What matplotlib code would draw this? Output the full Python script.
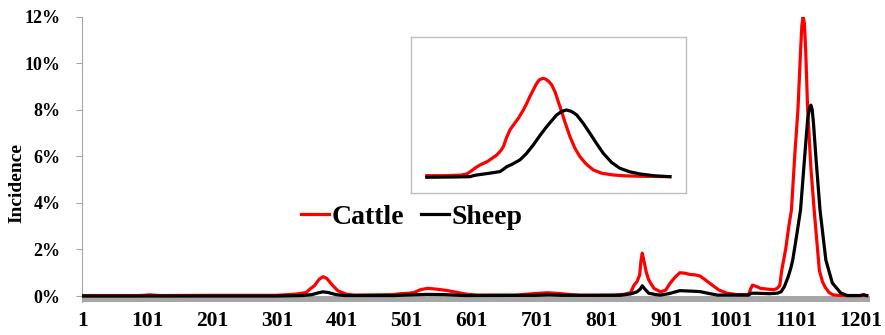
import matplotlib.pyplot as plt
from matplotlib.ticker import FuncFormatter

plt.rcParams['font.family'] = ['Liberation Serif', 'DejaVu Serif']
plt.rcParams['font.weight'] = 'bold'

# sequence position vs incidence (%)
cattle_pos = [1, 90, 105, 120, 200, 300, 330, 346, 352, 359, 366, 372, 378, 387, 395, 408,
              420, 480, 492, 505, 513, 522, 533, 549, 562, 574, 585, 595, 610, 670, 682,
              700, 718, 735, 754, 770, 820, 835, 846, 851, 856, 860, 862, 864, 866, 870,
              874, 882, 892, 900, 907, 915, 922, 930, 937, 945, 953, 960, 968, 982, 995,
              1010, 1028, 1031, 1034, 1041, 1046, 1056, 1067, 1072, 1076, 1079, 1085, 1090,
              1094, 1099, 1104, 1108, 1110, 1112, 1114, 1116, 1119, 1124, 1129, 1133, 1137,
              1142, 1146, 1152, 1158, 1170, 1210]
cattle_val = [0.02, 0.02, 0.05, 0.02, 0.03, 0.03, 0.08, 0.15, 0.3, 0.45, 0.72, 0.83, 0.75,
              0.45, 0.22, 0.08, 0.04, 0.06, 0.1, 0.12, 0.16, 0.27, 0.33, 0.29, 0.24, 0.18,
              0.12, 0.07, 0.04, 0.04, 0.07, 0.11, 0.14, 0.11, 0.06, 0.03, 0.04, 0.07, 0.14,
              0.45, 0.62, 0.9, 1.5, 1.84, 1.6, 1.05, 0.69, 0.33, 0.18, 0.25, 0.55, 0.82, 1.0,
              0.98, 0.93, 0.91, 0.86, 0.72, 0.55, 0.26, 0.12, 0.06, 0.06, 0.3, 0.47, 0.4,
              0.33, 0.3, 0.27, 0.33, 0.45, 1.1, 2.0, 3.0, 3.7, 6.0, 8.0, 10.5, 11.6, 12.0,
              11.7, 10.5, 8.0, 5.5, 3.7, 2.4, 1.1, 0.6, 0.38, 0.15, 0.05, 0.02, 0.02]

sheep_pos = [1, 300, 340, 355, 365, 372, 380, 392, 405, 480, 510, 533, 560, 590, 700, 720,
             740, 830, 846, 856, 861, 864, 868, 874, 885, 892, 905, 922, 940, 953, 965, 980,
             1028, 1032, 1040, 1060, 1072, 1078, 1083, 1089, 1093, 1096, 1102, 1108, 1114,
             1119, 1122, 1124, 1126, 1128, 1132, 1138, 1147, 1157, 1170, 1180, 1200, 1205,
             1210]
sheep_val = [0.0, 0.0, 0.02, 0.06, 0.14, 0.18, 0.15, 0.06, 0.02, 0.02, 0.05, 0.07, 0.06,
             0.02, 0.03, 0.05, 0.03, 0.03, 0.09, 0.18, 0.3, 0.44, 0.3, 0.12, 0.06, 0.04, 0.1,
             0.23, 0.21, 0.19, 0.12, 0.04, 0.04, 0.12, 0.12, 0.1, 0.12, 0.18, 0.4, 0.83, 1.2,
             1.55, 2.6, 3.7, 5.85, 7.6, 8.1, 8.2, 8.0, 7.4, 5.85, 3.7, 1.55, 0.56, 0.13,
             0.02, 0.02, 0.06, 0.02]

# inset (relative units)
inset_cattle_x = [0, 8, 14, 16.4, 17.5, 18.5, 20, 21.9, 25, 28.8, 30.5, 31.5, 32.8, 34.2,
                  36, 37.8, 39.7, 41, 42.5, 43.8, 45, 46.3, 47.9, 49, 50.3, 51.4, 52.8, 54,
                  54.8, 56.8, 58.9, 61, 63, 65.5, 68.5, 72, 76.7, 82, 88, 100]
inset_cattle_y = [1.6, 1.6, 2.2, 3.3, 5, 6.7, 9.5, 12.4, 16, 22.5, 27, 30.9, 40, 47.8, 54,
                  60, 68, 74, 82, 88.2, 94, 98.5, 100, 99, 96.5, 93.2, 86, 77, 71.3, 56, 41,
                  29, 20.8, 13.5, 7.4, 4, 2.3, 1.4, 1.0, 0.6]
inset_sheep_x = [0, 12, 17.8, 19, 20.6, 25, 30.1, 31.5, 32.9, 35, 38.3, 41, 43.8, 46.5,
                 49.3, 51.5, 53.4, 55.5, 57.5, 59.5, 61.7, 64.5, 67.1, 70, 72.6, 76, 79.4,
                 83.5, 87.7, 94, 100]
inset_sheep_y = [0, 0.3, 0.6, 1.5, 2.3, 3.8, 5.7, 8, 10.7, 13, 17.5, 24, 32.6, 42, 51.1,
                 57.5, 62.9, 66.5, 68, 66.5, 62.9, 54, 44.4, 33.5, 24.2, 15, 9.1, 5.5, 3.3,
                 1.4, 0.6]

xtick_labels = ['1', '101', '201', '301', '401', '501', '601', '701', '801', '901',
                '1001', '1101', '1201']
ytick_vals = [0, 2, 4, 6, 8, 10, 12]

fig = plt.figure(figsize=(8.85, 3.35), dpi=100)
ax = fig.add_axes([0.0923, 0.0976, 0.8907, 0.8526])

ax.axhspan(-0.27, 0, color='#a6a6a6', lw=0, zorder=1)
ax.plot(cattle_pos, cattle_val, color='#ff0000', lw=2.3, label='Cattle', zorder=3,
        solid_joinstyle='round')
ax.plot(sheep_pos, sheep_val, color='black', lw=2.3, label='Sheep', zorder=4,
        solid_joinstyle='round')

ax.set_xlim(0, 1215)
ax.set_ylim(-0.27, 12)
ax.set_xticks([int(t) for t in xtick_labels])
ax.set_xticklabels(xtick_labels, fontsize=15.5, fontweight='bold')
ax.tick_params(axis='x', length=0, pad=6.5)
ax.set_yticks(ytick_vals)
ax.yaxis.set_major_formatter(FuncFormatter(lambda v, p: '%d%%' % v))
ax.tick_params(axis='y', length=4, width=0.8, color='#a6a6a6', pad=11, labelsize=13)
for lbl in ax.get_yticklabels():
    lbl.set_fontweight('bold')
for s in ['top', 'right', 'bottom']:
    ax.spines[s].set_visible(False)
ax.spines['left'].set_color('#a6a6a6')
ax.spines['left'].set_linewidth(0.8)
ax.set_ylabel('Incidence', fontsize=14, fontweight='bold')
ax.yaxis.set_label_coords(-0.071, 0.418)

leg = ax.legend(loc='center left', bbox_to_anchor=(301 / 885, 1 - 217 / 335),
                bbox_transform=fig.transFigure, ncol=2, frameon=False,
                prop={'family': 'Liberation Serif', 'weight': 'bold', 'size': 20},
                handlelength=1.0, handletextpad=0.1, columnspacing=0.6, borderpad=0,
                borderaxespad=0)

ins = fig.add_axes([0.4641, 0.4230, 0.3107, 0.4657])
ins.plot(inset_cattle_x, inset_cattle_y, color='#ff0000', lw=2.3, solid_joinstyle='round')
ins.plot(inset_sheep_x, inset_sheep_y, color='black', lw=2.3, solid_joinstyle='round')
ins.set_xlim(-6.6, 106.5)
ins.set_ylim(-16.2, 141.4)
ins.set_xticks([])
ins.set_yticks([])
for s in ins.spines.values():
    s.set_color('#bfbfbf')
    s.set_linewidth(1.0)

fig.savefig('out.png', dpi=100)
